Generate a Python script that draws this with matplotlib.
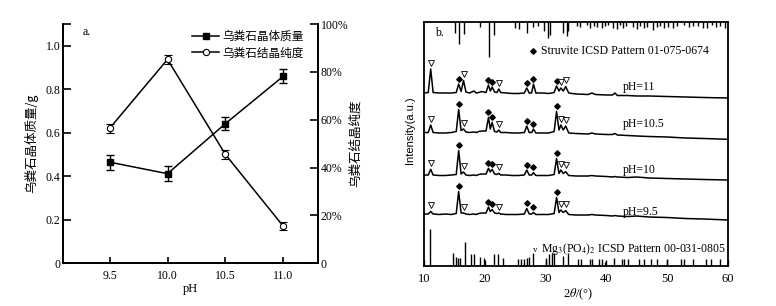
import matplotlib
matplotlib.use("Agg")
import matplotlib.pyplot as plt
from matplotlib.lines import Line2D

plt.rcParams['font.family'] = ['Liberation Serif', 'DejaVu Sans']
plt.rcParams['mathtext.fontset'] = 'stix'

CJK = ['Noto Sans CJK SC', 'DejaVu Sans']

# ---------------- Panel a data ----------------
ph = [9.5, 10.0, 10.5, 11.0]
mass = [0.465, 0.412, 0.642, 0.860]
mass_err = [0.035, 0.035, 0.030, 0.033]
purity = [56.4, 85.2, 45.5, 15.5]
purity_err = [1.8, 2.0, 2.0, 1.7]
ph_ticks = [9.5, 10.0, 10.5, 11.0]
ph_tick_labels = ['9.5', '10.0', '10.5', '11.0']
mass_ticks = [0, 0.2, 0.4, 0.6, 0.8, 1.0, 1.1]
mass_tick_labels = ['0', '0.2', '0.4', '0.6', '0.8', '1.0', '']
purity_ticks = [0, 20, 40, 60, 80, 100]
purity_tick_labels = ['0', '20%', '40%', '60%', '80%', '100%']
legend_labels = ['乌粪石晶体质量', '乌粪石结晶纯度']

# ---------------- Panel b data ----------------
two_theta = [10.0, 10.7, 11.1, 11.5, 12.5, 13.5, 14.5, 15.3, 15.7, 16.1, 16.5, 16.9,
             17.5, 18.2, 18.6, 19.0, 19.5, 20.2, 20.6, 20.9, 21.2, 21.6, 22.0, 22.3,
             22.6, 23.5, 24.5, 25.5, 26.5, 26.9, 27.3, 27.7, 28.0, 28.4, 29.5, 30.5,
             31.4, 31.8, 32.2, 32.5, 32.9, 33.3, 33.8, 35.0, 37.0, 37.6, 38.2, 40.0,
             41.0, 41.4, 41.8, 43.5, 45.0, 47.0, 50.0, 53.0, 56.0, 60.0]
int_ph11 = [173, 173.5, 197, 173.5, 173, 173, 173, 173.5, 182, 174.5, 185.5, 174,
            173, 175, 173, 173.5, 174.5, 173.5, 181, 175, 179, 174, 173.5, 177,
            173.5, 173, 172.5, 172.5, 173, 178, 173, 173, 182, 173, 173, 172.5,
            173.5, 180, 175, 178, 175, 179.5, 173, 172, 171.5, 173, 171.5, 171,
            171, 173, 170.5, 170.5, 170, 170, 169.5, 169, 168.5, 168]
int_ph105 = [133.5, 133.5, 141, 133.5, 133, 133, 133.5, 134.5, 156.5, 135.5, 137, 134,
             133.5, 134, 133.5, 134.5, 135, 135, 148.5, 137, 143.5, 134.5, 134, 136,
             133.5, 133.5, 133, 133, 133.5, 140, 133.5, 133.5, 137, 133, 133, 133,
             134.5, 154.5, 136, 141, 136, 140, 133, 132.5, 132, 133, 132, 131.5,
             131.5, 132.5, 131, 130.5, 130, 129.5, 129, 128, 127.5, 126.7]
int_ph10 = [91, 91, 96.7, 91, 90.5, 90.5, 91, 91.5, 115.5, 92, 94, 91,
            90.5, 91, 90.5, 91.5, 92, 92, 97.7, 94, 96.7, 92, 91.5, 92.7,
            91, 91, 90.5, 90.5, 91, 96, 91, 91, 93.3, 90.5, 90.5, 90.5,
            91.5, 107.5, 92.5, 96, 92.5, 94.3, 90.5, 90, 90, 90.5, 90, 89.5,
            89, 89.5, 89, 88.5, 89, 88, 87.5, 87, 86.5, 86]
int_ph95 = [52, 52, 54.5, 52, 51.5, 52, 51.5, 52.5, 74.5, 53, 53, 52,
            51.5, 52, 51.5, 52.5, 53, 53, 59, 54.5, 56.5, 53, 52.5, 53,
            52, 51.5, 51.5, 51.5, 52, 57.5, 52, 52, 53.5, 51.5, 51.5, 51.5,
            52.5, 68.5, 53.5, 56, 53.5, 55.3, 51.5, 51, 51, 51.5, 51, 50.5,
            50, 50.5, 50, 49.5, 50, 49, 48.5, 47.5, 47, 46]
pattern_labels = ['pH=11', 'pH=10.5', 'pH=10', 'pH=9.5']
struvite_peaks = [15.7, 20.6, 21.2, 26.9, 28.0, 31.8]
mgpo_peaks = [11.1, 16.5, 22.3, 32.5, 33.3]

struvite_ref_pos = [15.1, 15.8, 16.5, 19.2, 20.7, 21.5, 25.0, 25.7, 27.0, 28.0, 28.8,
                    29.7, 30.4, 30.8, 32.9, 33.5, 33.7, 35.1, 35.7, 36.8, 37.3, 37.9,
                    38.4, 39.2, 39.8, 40.3, 41.1, 41.7, 42.2, 42.8, 43.3, 44.4, 45.0,
                    45.5, 46.1, 46.6, 47.7, 48.3, 48.8, 49.4, 50.2, 51.0, 51.6, 52.7,
                    53.5, 54.3, 55.1, 55.9, 56.5, 57.3, 58.1, 58.7, 59.5]
struvite_ref_len = [11, 22, 12, 5, 35, 13, 6, 7, 11, 5, 4,
                    9, 16, 13, 11, 14, 9, 4, 5, 3, 6, 4,
                    5, 6, 4, 3, 6, 7, 3, 6, 4, 5, 7,
                    4, 6, 5, 8, 5, 4, 6, 5, 6, 4, 3,
                    5, 4, 4, 6, 6, 3, 5, 4, 6]
mgpo_ref_pos = [11.0, 14.7, 15.3, 15.6, 16.0, 16.7, 17.8, 18.2, 19.2, 19.9, 21.5,
                22.1, 23.0, 25.5, 26.0, 26.4, 26.9, 27.3, 28.0, 30.1, 30.6, 31.0,
                31.3, 32.8, 33.6, 35.4, 35.9, 37.3, 37.7, 38.7, 39.2, 39.8, 41.3,
                42.5, 42.9, 43.6, 45.3, 46.2, 47.3, 48.3, 50.0, 52.3, 52.8, 54.3,
                56.3, 57.2, 58.7]
mgpo_ref_len = [36.7, 13.3, 9, 8.3, 8.3, 24.3, 11.7, 11.7, 9.3, 8.3, 11.7,
                11.7, 8.3, 7.3, 7.3, 7.3, 8.3, 9, 13.3, 8.3, 11.7, 13.3,
                13.3, 10, 13.3, 6.7, 6.7, 7.3, 6.7, 6.7, 6.7, 4.3, 7.7,
                6.7, 6.7, 6.7, 6.7, 6.7, 6.7, 6.7, 6.7, 6.7, 6.7, 6.7,
                6.7, 6.7, 6.7]
xrd_ticks = [10, 20, 30, 40, 50, 60]

# ---------------- Figure ----------------
fig = plt.figure(figsize=(7.76, 3.06), dpi=100)
fig.patch.set_facecolor('white')

# ---- Panel a ----
ax = fig.add_axes([0.0816, 0.1395, 0.3282, 0.782])
ax2 = ax.twinx()
lw = 1.1
ax.errorbar(ph, mass, yerr=mass_err, color='black', lw=lw, marker='s', ms=4,
            mfc='black', mec='black', capsize=2.6, elinewidth=1.0, capthick=1.0)
ax2.errorbar(ph, purity, yerr=purity_err, color='black', lw=lw, marker='o', ms=4.5,
             mfc='white', mec='black', mew=0.8, capsize=2.6, elinewidth=1.0, capthick=1.0)
ax.set_xlim(9.1, 11.3)
ax.set_ylim(0, 1.1)
ax2.set_ylim(0, 100)
ax.set_xticks(ph_ticks)
ax.set_xticklabels(ph_tick_labels)
ax.set_yticks(mass_ticks)
ax.set_yticklabels(mass_tick_labels)
ax2.set_yticks(purity_ticks)
ax2.set_yticklabels(purity_tick_labels)
for a in (ax, ax2):
    a.spines['top'].set_visible(False)
    for s in a.spines.values():
        s.set_linewidth(1.3)
ax.tick_params(axis='y', direction='in', length=6, width=1.2, labelsize=8.5, pad=2)
ax.tick_params(axis='x', direction='in', length=4.5, width=1.2, labelsize=8.5, pad=5)
ax2.tick_params(axis='y', direction='in', length=6, width=1.2, labelsize=8.5, pad=2)
ax.set_xlabel('pH', fontsize=9)
ax.xaxis.set_label_coords(0.5, -0.082)
ax.set_ylabel('乌粪石晶体质量/g', fontsize=9, family=CJK)
ax.yaxis.set_label_coords(-0.099, 0.5)
ax2.set_ylabel('乌粪石结晶纯度', fontsize=9, family=CJK, rotation=90)
ax2.yaxis.set_label_coords(1.12, 0.5)
ax.text(0.075, 0.968, 'a.', transform=ax.transAxes, fontsize=8.5, ha='left', va='center')
h1 = Line2D([], [], color='black', lw=lw, marker='s', ms=4, mfc='black', mec='black')
h2 = Line2D([], [], color='black', lw=lw, marker='o', ms=4.5, mfc='white', mec='black', mew=0.8)
ax.legend([h1, h2], legend_labels, loc='upper right', bbox_to_anchor=(0.945, 0.975),
          frameon=False, prop={'family': CJK, 'size': 8.4}, handlelength=2.3,
          handletextpad=0.3, labelspacing=0.3, borderaxespad=0, borderpad=0)

# ---- Panel b ----
bx = fig.add_axes([0.5464, 0.1307, 0.3918, 0.7974])
top = 244
bx.set_xlim(10, 60)
bx.set_ylim(0, top)
patterns = [int_ph11, int_ph105, int_ph10, int_ph95]
for ys in patterns:
    bx.plot(two_theta, ys, color='black', lw=1.1)
for ys in patterns:
    st_y = [ys[two_theta.index(p)] + 5.5 for p in struvite_peaks]
    bx.plot(struvite_peaks, st_y, ls='none', marker='D', ms=2.8, mfc='black', mec='black')
    mg_y = [ys[two_theta.index(p)] + 6.5 for p in mgpo_peaks]
    bx.plot(mgpo_peaks, mg_y, ls='none', marker='v', ms=4.5, mfc='white', mec='black', mew=0.6)
bx.vlines(struvite_ref_pos, [top - l for l in struvite_ref_len], top, color='black', lw=1.0)
bx.vlines(mgpo_ref_pos, 0, mgpo_ref_len, color='black', lw=1.0)

label_y = [178.7, 142.3, 96, 54.3]
for lab, yy in zip(pattern_labels, label_y):
    bx.text(42.7, yy, lab, fontsize=8.5, ha='left', va='center')
bx.text(11.8, 232.7, 'b.', fontsize=8.5, ha='left', va='center')
bx.plot([27.9], [215.3], ls='none', marker='D', ms=2.8, mfc='black', mec='black')
bx.text(29.3, 215.3, 'Struvite ICSD Pattern 01-075-0674', fontsize=8.5, ha='left', va='center')
bx.text(28.0, 16.0, 'v', fontsize=6.5, ha='left', va='center')
bx.text(59.6, 17.3, 'Mg$_3$(PO$_4$)$_2$ ICSD Pattern 00-031-0805', fontsize=8.5,
        ha='right', va='center')

bx.set_xticks(xrd_ticks)
bx.set_yticks([])
bx.tick_params(axis='x', direction='in', length=4, width=1.0, labelsize=9, pad=5)
for s in bx.spines.values():
    s.set_linewidth(1.3)
bx.set_xlabel('2$\\theta$/(°)', fontsize=9)
bx.xaxis.set_label_coords(0.507, -0.086)
bx.set_ylabel('Intensity(a.u.)', fontsize=8, family=['Liberation Sans', 'DejaVu Sans'])
bx.yaxis.set_label_coords(-0.03, 0.557)

fig.savefig('out.png', dpi=100, facecolor='white')
